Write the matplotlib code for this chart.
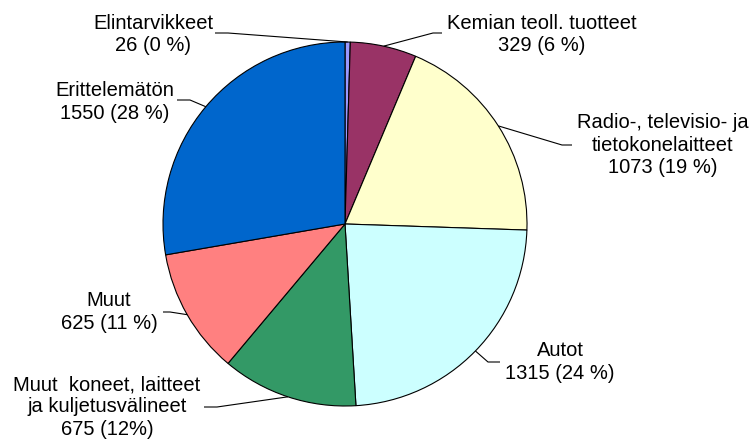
import numpy as np
import matplotlib
matplotlib.use("Agg")
import matplotlib.pyplot as plt

W, H = 753, 443

labels = ["Elintarvikkeet", "Kemian teoll. tuotteet", "Radio-, televisio- ja\ntietokonelaitteet",
          "Autot", "Muut  koneet, laitteet\nja kuljetusvälineet", "Muut", "Erittelemätön"]
values = [26, 329, 1073, 1315, 675, 625, 1550]
pct_text = ["0 %", "6 %", "19 %", "24 %", "12%", "11 %", "28 %"]
colors = ["#9999FF", "#993366", "#FFFFCC", "#CCFFFF", "#339966", "#FF8080", "#0066CC"]

# label layout in pixels from top-left: text centre, elbow point, line end near text
text_pos = [(153, 34.5), (542, 34.5), (663, 145), (560, 362), (107, 407), (109, 312), (115, 102)]
elbows = [(228, 33), (433, 33), (562, 145), (488, 362), (217, 407), (170, 312), (190, 100)]
line_ends = [(215, 33), (442, 33), (572, 145), (500, 362), (204, 407), (163, 312), (177, 100)]

cx, cy, r = 345, 224, 182

fig = plt.figure(figsize=(W / 100, H / 100), dpi=100)
ax = fig.add_axes([0, 0, 1, 1])

wedges, _ = ax.pie(values, colors=colors, startangle=90, counterclock=False,
                   center=(cx, H - cy), radius=r,
                   wedgeprops=dict(edgecolor="black", linewidth=0.8))
ax.set_xlim(0, W)
ax.set_ylim(0, H)
ax.set_aspect("auto")
ax.axis("off")

font = ["Liberation Sans", "Arial", "DejaVu Sans"]
for w, lab, val, pct, tp, el, le in zip(wedges, labels, values, pct_text,
                                         text_pos, elbows, line_ends):
    mid = np.deg2rad((w.theta1 + w.theta2) / 2)
    ax_x = cx + r * np.cos(mid)
    ax_y = (H - cy) + r * np.sin(mid)
    ax.plot([ax_x, el[0], le[0]], [ax_y, H - el[1], H - le[1]],
            color="black", linewidth=0.8, solid_capstyle="butt")
    ax.text(tp[0], H - tp[1], f"{lab}\n{val} ({pct})", ha="center", va="center",
            fontsize=14.5, family=font, linespacing=1.22, color="black")

fig.savefig("out.png", dpi=100, facecolor="white")
